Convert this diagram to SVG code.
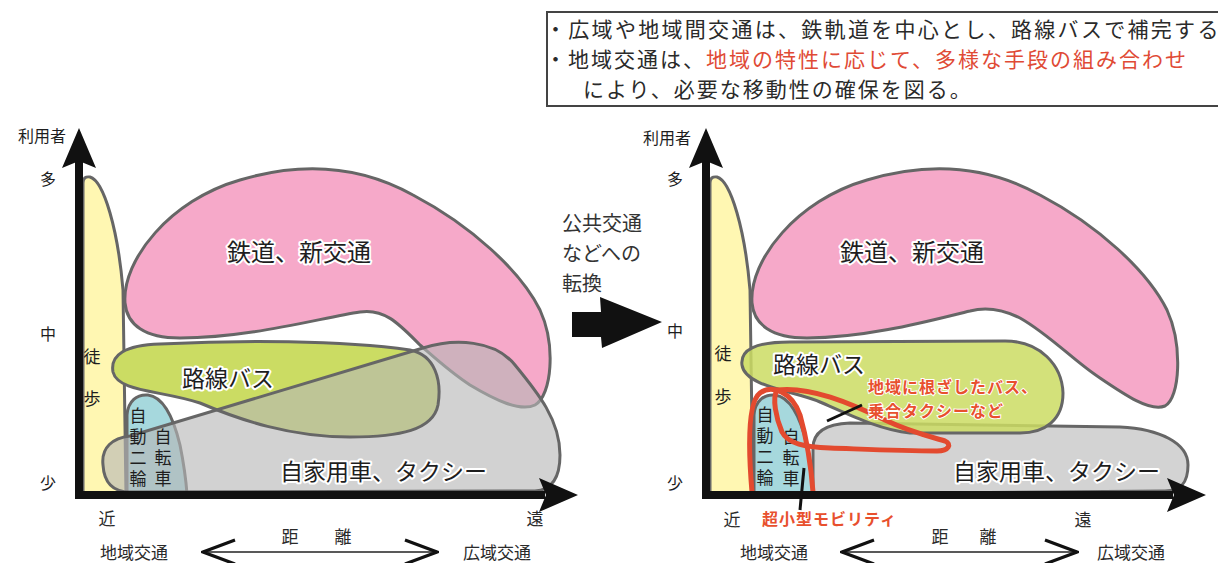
<svg xmlns="http://www.w3.org/2000/svg" xmlns:xlink="http://www.w3.org/1999/xlink" width="1218" height="563" viewBox="0 0 1218 563">
<style>
text{font-family:"Noto Sans CJK JP","Noto Sans",sans-serif;dominant-baseline:central}
.top{font-size:21px;fill:#2a2a2a;letter-spacing:2px}
.hl{fill:#e04a35}
.ax{font-size:16px;fill:#1e1e1e}
.sm{font-size:17px;fill:#2a2a2a}
.v{font-size:17px;fill:#1e1e1e;text-anchor:middle}
.vt{font-size:17px;fill:#1e1e1e;writing-mode:vertical-rl;letter-spacing:4px}
.lbl{font-size:23px;fill:#1e1e1e;stroke:#fff;stroke-width:4px;stroke-linejoin:round;paint-order:stroke}
.sh{stroke:#666;stroke-width:3}
.ol{fill:none;stroke:#666;stroke-width:3}
.yel{fill:#fff7b2}
.pink{fill:#f6a9c9}
.bus{fill:#cbdc63}
.bike{fill:#a6d8dd}
.car{fill:#b6b6b6;fill-opacity:0.62}
.red{fill:none;stroke:#e34a2f;stroke-width:5;stroke-linecap:round}
.redt{font-size:16px;letter-spacing:1px;font-weight:bold;fill:#e8502e;stroke:#fff;stroke-width:2px;paint-order:stroke}
.axis{stroke:#111;stroke-width:8;fill:none}
.dist{stroke:#222;stroke-width:1.6;fill:none;marker-start:url(#chev);marker-end:url(#chev)}
.ptr{stroke:#111;stroke-width:3}
</style>
<defs>
<marker id="chev" viewBox="0 0 36 28" refX="34" refY="14" markerWidth="36" markerHeight="28" markerUnits="userSpaceOnUse" orient="auto-start-reverse">
<path d="M2,2 L34,14 L2,26" fill="none" stroke="#111" stroke-width="3.2"/>
</marker>
<path id="busL" d="M113,372 C110,355 125,345 160,344 C240,340 340,340 410,350 C435,355 442,380 438,405 C433,430 400,437 350,437 C290,437 240,420 200,403 C160,390 118,392 113,372 Z"/>
<path id="busR" d="M742,365 C740,350 755,342 790,342 L1005,341 C1040,341 1062,365 1063,393 C1063,420 1045,433 1020,433 L910,433 C880,430 850,415 820,402 C795,391 745,387 742,365 Z"/>
</defs>
<rect width="1218" height="563" fill="#fff"/>

<g id="note">
<rect x="547" y="12" width="700" height="94" fill="#fff" stroke="#444" stroke-width="2"/>
<text class="top" x="545" y="28" style="letter-spacing:2.3px">・広域や地域間交通は、鉄軌道を中心とし、路線バスで補完する。</text>
<text class="top" x="545" y="58">・地域交通は、<tspan class="hl">地域の特性に応じて、多様な手段の組み合わせ</tspan></text>
<text class="top" x="583" y="88">により、必要な移動性の確保を図る。</text>
</g>

<!-- LEFT CHART -->
<g id="walk-L"><path class="yel sh" d="M83,495 L83,183 Q83,176 90,177 C104,181 118,230 123,290 L126,495 Z"/>
<text class="v" x="92" y="355">徒</text><text class="v" x="92" y="397">歩</text></g>
<g id="rail-L"><path class="pink sh" d="M125,303 C122,260 170,200 240,180 C290,165 350,160 413,195 C470,225 520,270 540,310 C556,345 552,395 535,405 C520,412 495,400 470,385 C450,372 435,358 420,345 C400,325 385,308 360,312 C320,318 250,338 180,338 C145,338 127,325 125,303 Z"/></g>
<g id="bike-L"><path class="bike sh" d="M127,494 L127,415 C128,401 137,394 148,395 C164,397 174,420 180,445 C184,465 186,480 187,494 Z"/></g>
<g id="bus-L"><use xlink:href="#busL" class="bus"/></g>
<g id="car-L"><path class="car sh" d="M103,465 C101,447 113,438 130,436 L423,348 C455,338 495,340 515,365 C538,393 560,420 560,455 C560,478 552,490 535,491 L130,492 C112,492 104,482 103,465 Z"/></g>
<g id="bus-L-outline"><use xlink:href="#busL" class="ol"/></g>
<g id="labels-L">
<text class="lbl" x="227" y="250" style="font-size:24px">鉄道、新交通</text>
<text class="lbl" x="182" y="377">路線バス</text>
<text class="lbl" x="280" y="470">自家用車、タクシー</text>
<text class="vt" x="138" y="407">自動二輪</text>
<text class="vt" x="163" y="428">自転車</text>
</g>
<g id="axes-L">
<path class="axis" d="M79,498 L79,160 M75,495 L545,495"/>
<polygon points="79,128 62,168 79,161 96,168" fill="#111"/>
<polygon points="578,495 539,478 546,495 539,512" fill="#111"/>
<text class="ax" x="42" y="135" text-anchor="middle">利用者</text>
<text class="ax" x="48" y="178" text-anchor="middle">多</text>
<text class="ax" x="48" y="333" text-anchor="middle">中</text>
<text class="ax" x="48" y="482" text-anchor="middle">少</text>
<text class="sm" x="107" y="517" text-anchor="middle">近</text>
<text class="sm" x="535" y="517" text-anchor="middle">遠</text>
<text class="sm" x="100" y="551">地域交通</text>
<text class="sm" x="290" y="535" text-anchor="middle">距</text>
<text class="sm" x="343" y="535" text-anchor="middle">離</text>
<text class="sm" x="463" y="551">広域交通</text>
<path class="dist" d="M203,552 L437,552"/>
</g>

<!-- MIDDLE -->
<g id="shift">
<text x="562" y="222" style="font-size:20px;fill:#333">公共交通</text>
<text x="562" y="252" style="font-size:20px;fill:#333">などへの</text>
<text x="562" y="282" style="font-size:20px;fill:#333">転換</text>
<polygon points="572,312 601,312 600,297 662,322 602,348 601,337 572,337" fill="#111"/>
</g>

<!-- RIGHT CHART -->
<g id="walk-R"><path class="yel sh" d="M710,495 L710,183 Q710,176 717,177 C731,181 745,230 750,290 L753,495 Z"/></g>
<g id="rail-R"><path class="pink sh" d="M752,303 C749,260 797,200 867,180 C917,165 977,160 1040,195 C1097,225 1147,270 1167,310 C1183,345 1180,398 1165,406 C1150,412 1125,395 1100,378 C1075,362 1050,335 1020,318 C1000,308 985,307 970,311 C940,318 870,338 807,338 C772,338 754,325 752,303 Z"/></g>
<g id="bike-R"><path class="bike sh" d="M754,494 L754,415 C755,401 764,394 775,395 C791,397 801,420 807,445 C811,465 813,480 814,494 Z"/></g>
<g id="car-R"><path class="sh" fill="#d3d3d3" d="M813,494 L813,448 C813,432 826,424 850,423 L1120,427 C1160,429 1188,443 1188,465 C1188,484 1180,491 1165,491 Z"/></g>
<g id="bus-R"><use xlink:href="#busR" class="bus" style="fill-opacity:0.85"/><use xlink:href="#busR" class="ol"/></g>
<g id="labels-R">
<text class="v" x="723" y="352">徒</text><text class="v" x="723" y="395">歩</text>
<text class="lbl" x="840" y="250" style="font-size:24px">鉄道、新交通</text>
<text class="lbl" x="773" y="363">路線バス</text>
<text class="lbl" x="953" y="470">自家用車、タクシー</text>
<text class="vt" x="765" y="406">自動二輪</text>
<text class="vt" x="791" y="428">自転車</text>
</g>
<g id="community-bus">
<path class="red" d="M777,390 C810,386 850,403 885,420 C910,432 935,438 945,441 C952,444 949,451 937,451 C900,451 860,449 830,448 C805,447 788,444 782,432 C776,418 772,398 777,390 Z"/>
<line class="ptr" x1="827" y1="421" x2="862" y2="405"/>
<text class="redt" x="868" y="386">地域に根ざしたバス、</text>
<text class="redt" x="868" y="410">乗合タクシーなど</text>
</g>
<g id="micro-mobility">
<path class="red" d="M752,492 C748,445 748,402 760,393 C772,384 792,392 800,415 C807,440 811,465 813,492"/>
</g>
<g id="axes-R">
<path class="axis" d="M706,498 L706,160 M702,495 L1173,495"/>
<polygon points="706,128 689,168 706,161 723,168" fill="#111"/>
<polygon points="1206,495 1167,478 1174,495 1167,512" fill="#111"/>
<text class="ax" x="667" y="137" text-anchor="middle">利用者</text>
<text class="ax" x="675" y="178" text-anchor="middle">多</text>
<text class="ax" x="675" y="330" text-anchor="middle">中</text>
<text class="ax" x="675" y="482" text-anchor="middle">少</text>
<text class="sm" x="732" y="518" text-anchor="middle">近</text>
<text class="sm" x="1083" y="518" text-anchor="middle">遠</text>
<text class="sm" x="740" y="551">地域交通</text>
<text class="sm" x="940" y="535" text-anchor="middle">距</text>
<text class="sm" x="988" y="535" text-anchor="middle">離</text>
<text class="sm" x="1097" y="551">広域交通</text>
<path class="dist" d="M842,552 L1077,552"/>
</g>
<g id="micro-label">
<line class="ptr" x1="804" y1="468" x2="800" y2="510"/>
<text class="redt" x="762" y="518">超小型モビリティ</text>
</g>
</svg>
